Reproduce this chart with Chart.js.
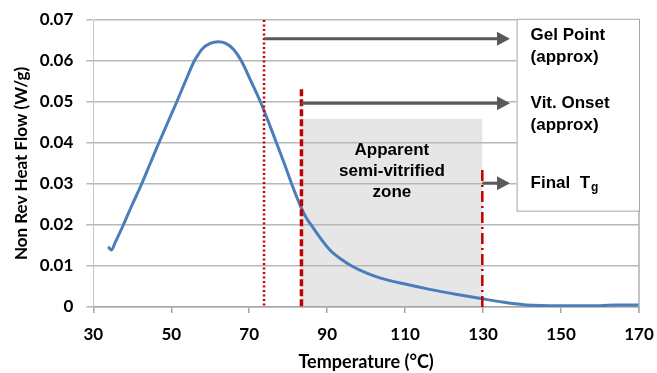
<!DOCTYPE html>
<html lang="en">
<head>
    <meta charset="UTF-8">
    <title>Non Rev Heat Flow</title>
    <script src="https://cdn.jsdelivr.net/npm/chart.js"></script>
    <style>
        body {
            margin: 0;
            background-color: #fff;
        }
        #wrap {
            width: 657px;
            height: 373px;
        }
    </style>
</head>
<body>
    <div id="wrap"><canvas id="heatChart" width="657" height="373"></canvas></div>

    <script>
        // curve (temperature in C, heat flow in W/g)
        const temps = [33.8, 34.7, 35.6, 37.7, 40.0, 42.4, 44.6, 46.8, 49.1, 51.4, 53.6, 55.9, 57.0, 58.0, 60.0, 62.0, 64.0,
            66.0, 68.0, 70.5, 72.9, 75.0, 77.0, 79.0, 80.9, 82.0, 83.3, 84.6, 86.2, 88.5, 90.7, 93.5, 96.3, 100.0, 103.5,
            110.0, 116.3, 123.0, 129.8, 135.0, 141.0, 150.0, 160.0, 164.0, 170.0];
        const heatFlow = [0.0147, 0.0139, 0.0157, 0.0200, 0.0250, 0.0300, 0.0350, 0.0400, 0.0450, 0.0500, 0.0550, 0.0600,
            0.0617, 0.0630, 0.0643, 0.0647, 0.0643, 0.0628, 0.0600, 0.0550, 0.0500, 0.0450, 0.0400, 0.0350, 0.0300,
            0.0273, 0.0243, 0.0218, 0.0196, 0.0165, 0.0139, 0.0117, 0.0100, 0.0083, 0.0071, 0.0056, 0.0043, 0.0031,
            0.0020, 0.0012, 0.0005, 0.0003, 0.0003, 0.0005, 0.0005];

        // markers: gel point, vitrification onset, final Tg
        const markerTemps = [73.8, 83.4, 129.8];
        const markerTops = [0.07, 0.0531, 0.0334];
        const arrowLevels = [0.0654, 0.0497, 0.0302];
        const arrowTipTemp = 136.9;

        // shaded zone
        const zoneRange = [83.4, 129.8];
        const zoneTop = 0.0459;
        const zoneText = ['Apparent', 'semi-vitrified', 'zone'];
        const zoneTextLevel = 0.033;

        // label box
        const boxRange = [138.6, 170];
        const boxLevels = [0.0703, 0.0235];
        const boxText = [['Gel Point', '(approx)'], ['Vit. Onset', '(approx)'], ['Final  T']];
        const boxTextLevels = [0.0663, 0.0496, 0.0302];
        const tgSub = 'g';

        const axisFont = { family: 'Lato', weight: 'bold', size: 17 };
        const noteFont = 'bold 17px "Liberation Sans", Arial, sans-serif';
        const red = '#c00000';
        const markerDash = [[2, 2.5], [7, 3], [11, 4, 2, 4]];
        const markerWidth = [2.5, 3.5, 2.5];

        function drawArrow(ctx, x1, x2, y) {
            const head = 13;
            ctx.strokeStyle = '#595959';
            ctx.fillStyle = '#595959';
            ctx.lineWidth = 3;
            ctx.setLineDash([]);
            ctx.beginPath();
            ctx.moveTo(x1, y);
            ctx.lineTo(x2 - head, y);
            ctx.stroke();
            ctx.beginPath();
            ctx.moveTo(x2, y);
            ctx.lineTo(x2 - head, y - 7);
            ctx.lineTo(x2 - head, y + 7);
            ctx.closePath();
            ctx.fill();
        }

        const notes = {
            id: 'notes',
            beforeDraw(chart) {
                const { ctx, scales: { x, y } } = chart;
                ctx.save();
                ctx.fillStyle = '#fff';
                ctx.fillRect(0, 0, chart.width, chart.height);
                // gray zone sits under the grid lines
                const zl = x.getPixelForValue(zoneRange[0]);
                const zr = x.getPixelForValue(zoneRange[1]);
                const zt = y.getPixelForValue(zoneTop);
                ctx.fillStyle = '#e6e6e6';
                ctx.fillRect(zl, zt, zr - zl, y.getPixelForValue(0) - zt);
                ctx.restore();
            },
            afterDatasetsDraw(chart) {
                const { ctx, chartArea, scales: { x, y } } = chart;
                ctx.save();

                // right edge of the plot
                ctx.strokeStyle = '#b0b0b0';
                ctx.lineWidth = 1.5;
                ctx.beginPath();
                ctx.moveTo(chartArea.right, chartArea.top);
                ctx.lineTo(chartArea.right, chartArea.bottom + 6);
                ctx.stroke();

                // zone label
                const zc = (x.getPixelForValue(zoneRange[0]) + x.getPixelForValue(zoneRange[1])) / 2;
                const zy = y.getPixelForValue(zoneTextLevel);
                ctx.font = noteFont;
                ctx.fillStyle = '#000';
                ctx.textAlign = 'center';
                ctx.textBaseline = 'middle';
                zoneText.forEach((t, i) => ctx.fillText(t, zc, zy + (i - 1) * 21));

                // red markers
                const y0 = y.getPixelForValue(0);
                markerTemps.forEach((t, i) => {
                    const px = x.getPixelForValue(t);
                    ctx.strokeStyle = red;
                    ctx.lineWidth = markerWidth[i];
                    ctx.setLineDash(markerDash[i]);
                    ctx.beginPath();
                    ctx.moveTo(px, y.getPixelForValue(markerTops[i]));
                    ctx.lineTo(px, y0);
                    ctx.stroke();
                });

                // arrows
                const tip = x.getPixelForValue(arrowTipTemp);
                markerTemps.forEach((t, i) => {
                    drawArrow(ctx, x.getPixelForValue(t), tip, y.getPixelForValue(arrowLevels[i]));
                });

                // label box
                const bl = x.getPixelForValue(boxRange[0]);
                const br = x.getPixelForValue(boxRange[1]);
                const bt = y.getPixelForValue(boxLevels[0]);
                const bb = y.getPixelForValue(boxLevels[1]);
                ctx.setLineDash([]);
                ctx.fillStyle = '#fff';
                ctx.fillRect(bl, bt, br - bl, bb - bt);
                ctx.strokeStyle = '#a6a6a6';
                ctx.lineWidth = 1;
                ctx.strokeRect(bl + 0.5, bt + 0.5, br - bl, bb - bt);

                ctx.fillStyle = '#000';
                ctx.textAlign = 'left';
                boxText.forEach((lines, i) => {
                    const ly = y.getPixelForValue(boxTextLevels[i]);
                    lines.forEach((t, j) => {
                        ctx.font = noteFont;
                        ctx.fillText(t, bl + 14, ly + j * 22);
                    });
                });
                // subscript g on Final Tg
                const last = boxText[boxText.length - 1][0];
                const ty = y.getPixelForValue(boxTextLevels[boxTextLevels.length - 1]);
                ctx.font = noteFont;
                const w = ctx.measureText(last).width;
                ctx.font = 'bold 12px "Liberation Sans", Arial, sans-serif';
                ctx.fillText(tgSub, bl + 14 + w + 1, ty + 5);

                ctx.restore();
            }
        };

        const ctx = document.getElementById('heatChart').getContext('2d');
        new Chart(ctx, {
            type: 'line',
            data: {
                datasets: [{
                    label: 'Non Rev Heat Flow',
                    data: temps.map((t, i) => ({ x: t, y: heatFlow[i] })),
                    borderColor: '#4a7ebb',
                    borderWidth: 3,
                    pointRadius: 0,
                    cubicInterpolationMode: 'monotone',
                    fill: false
                }]
            },
            options: {
                responsive: false,
                animation: false,
                layout: { padding: { left: 0, right: 18, top: 20, bottom: 0 } },
                plugins: {
                    legend: { display: false },
                    tooltip: { enabled: false }
                },
                scales: {
                    x: {
                        type: 'linear',
                        min: 30,
                        max: 170,
                        afterFit(scale) {
                            scale.height = 66;
                            scale.paddingLeft = 0;
                            scale.paddingRight = 0;
                        },
                        ticks: { stepSize: 20, padding: 11, color: '#000', font: axisFont, maxRotation: 0 },
                        grid: { drawOnChartArea: false, color: '#a6a6a6', lineWidth: 1.5, tickLength: 6 },
                        border: { color: '#a6a6a6', width: 1.5 },
                        title: {
                            display: true,
                            text: 'Temperature (°C)',
                            color: '#000',
                            font: { family: 'Lato', weight: 'bold', size: 18 },
                            padding: { top: 0, bottom: 0 }
                        }
                    },
                    y: {
                        min: 0,
                        max: 0.07,
                        afterFit(scale) {
                            scale.width = 93.3;
                            scale.paddingTop = 0;
                            scale.paddingBottom = 0;
                        },
                        ticks: {
                            stepSize: 0.01,
                            padding: 13,
                            color: '#000',
                            font: axisFont,
                            callback: v => v === 0 ? '0' : v.toFixed(2)
                        },
                        grid: { color: '#b8b8b8', lineWidth: 1.5, tickLength: 7 },
                        border: { color: '#c4c4c4', width: 1 },
                        title: {
                            display: true,
                            text: 'Non Rev Heat Flow (W/g)',
                            color: '#000',
                            font: axisFont,
                            padding: { top: 11, bottom: 0 }
                        }
                    }
                }
            },
            plugins: [notes]
        });
    </script>
</body>
</html>
